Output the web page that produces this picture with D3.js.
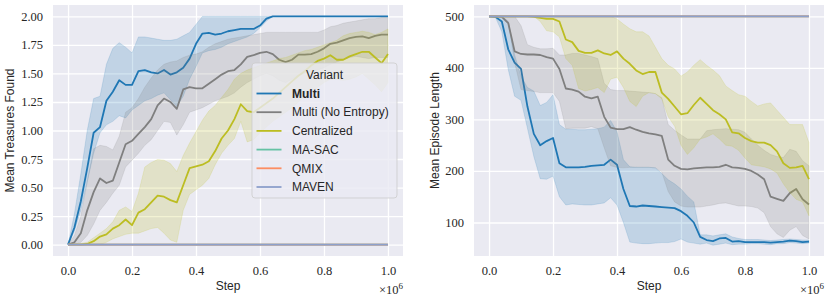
<!DOCTYPE html>
<html>
<head>
<meta charset="utf-8">
<script src="https://cdn.jsdelivr.net/npm/d3@7"></script>
<style>
  html, body { margin: 0; padding: 0; background: #fff; }
  svg { display: block; }
  .ax-lbl { font-family: "Liberation Sans", Arial, sans-serif; font-size: 12px; fill: #262626; }
  .leg { font-family: "Liberation Sans", Arial, sans-serif; font-size: 12px; fill: #262626; }
  .offset { font-family: "Liberation Serif", "DejaVu Serif", serif; fill: #262626; }
</style>
</head>
<body>
<div id="chart"></div>
<script>
'use strict';

// ─── Data ──────────────────────────────────────────────────────────────────
const steps = [0.00, 0.02, 0.04, 0.06, 0.08, 0.10, 0.12, 0.14, 0.16, 0.18,
               0.20, 0.22, 0.24, 0.26, 0.28, 0.30, 0.32, 0.34, 0.36, 0.38,
               0.40, 0.42, 0.44, 0.46, 0.48, 0.50, 0.52, 0.54, 0.56, 0.58,
               0.60, 0.62, 0.64, 0.66, 0.68, 0.70, 0.72, 0.74, 0.76, 0.78,
               0.80, 0.82, 0.84, 0.86, 0.88, 0.90, 0.92, 0.94, 0.96, 0.98, 1.00];
const flatSteps = [0.0, 1.0];

const variants = ['Multi', 'Multi (No Entropy)', 'Centralized', 'MA-SAC', 'QMIX', 'MAVEN'];
const colors   = ['#1f77b4', '#7f7f7f', '#bcbd22', '#66c2a5', '#fc8d62', '#8da0cb'];

// Left panel: mean treasures found
const multiMeanL = [0, 0.15, 0.38, 0.67, 0.98, 1.03, 1.26, 1.34, 1.44, 1.40, 1.40, 1.52, 1.53, 1.51, 1.50, 1.53, 1.49, 1.51, 1.55, 1.63,
                    1.76, 1.85, 1.855, 1.84, 1.85, 1.87, 1.88, 1.89, 1.89, 1.89, 1.92, 1.98, 2.0, 2.0, 2.0, 2.0, 2.0, 2.0, 2.0, 2.0,
                    2.0, 2.0, 2.0, 2.0, 2.0, 2.0, 2.0, 2.0, 2.0, 2.0, 2.0];
const multiLoL   = [0, 0.12, 0.30, 0.55, 0.80, 0.98, 1.05, 1.08, 1.13, 1.11, 1.18, 1.22, 1.26, 1.28, 1.31, 1.33, 1.27, 1.21, 1.30, 1.45,
                    1.56, 1.68, 1.70, 1.71, 1.73, 1.76, 1.78, 1.80, 1.82, 1.85, 1.90, 1.96, 2.0, 2.0, 2.0, 2.0, 2.0, 2.0, 2.0, 2.0,
                    2.0, 2.0, 2.0, 2.0, 2.0, 2.0, 2.0, 2.0, 2.0, 2.0, 2.0];
const multiHiL   = [0, 0.27, 0.62, 1.00, 1.28, 1.30, 1.58, 1.72, 1.77, 1.73, 1.68, 1.82, 1.82, 1.81, 1.80, 1.79, 1.79, 1.80, 1.83, 1.86,
                    1.93, 2.0, 2.0, 2.0, 2.0, 2.0, 2.0, 2.0, 2.0, 2.0, 2.0, 2.0, 2.0, 2.0, 2.0, 2.0, 2.0, 2.0, 2.0, 2.0,
                    2.0, 2.0, 2.0, 2.0, 2.0, 2.0, 2.0, 2.0, 2.0, 2.0, 2.0];
const noEntMeanL = [0, 0.02, 0.10, 0.30, 0.46, 0.58, 0.54, 0.56, 0.72, 0.88, 0.91, 0.97, 1.03, 1.10, 1.22, 1.28, 1.25, 1.19, 1.36, 1.38,
                    1.37, 1.37, 1.41, 1.45, 1.49, 1.52, 1.53, 1.58, 1.645, 1.66, 1.68, 1.69, 1.67, 1.62, 1.60, 1.62, 1.665, 1.665, 1.67, 1.69,
                    1.72, 1.76, 1.77, 1.79, 1.81, 1.82, 1.825, 1.81, 1.83, 1.84, 1.84];
const noEntLoL   = [0, 0, 0.02, 0.08, 0.18, 0.30, 0.37, 0.45, 0.52, 0.68, 0.74, 0.80, 0.87, 0.92, 1.00, 1.08, 1.07, 0.96, 1.05, 1.16,
                    1.18, 1.20, 1.23, 1.26, 1.28, 1.30, 1.33, 1.38, 1.42, 1.45, 1.48, 1.50, 1.48, 1.44, 1.42, 1.45, 1.48, 1.50, 1.52, 1.53,
                    1.55, 1.58, 1.60, 1.62, 1.64, 1.65, 1.64, 1.63, 1.64, 1.64, 1.64];
const noEntHiL   = [0, 0.08, 0.25, 0.55, 0.84, 0.87, 0.86, 0.83, 0.95, 1.16, 1.20, 1.28, 1.38, 1.46, 1.53, 1.58, 1.60, 1.61, 1.64, 1.66,
                    1.67, 1.69, 1.73, 1.76, 1.78, 1.80, 1.81, 1.82, 1.83, 1.84, 1.85, 1.86, 1.86, 1.86, 1.86, 1.86, 1.86, 1.86, 1.86, 1.86,
                    1.88, 1.91, 1.92, 1.94, 1.95, 1.96, 1.97, 1.98, 1.98, 1.99, 1.99];
const centMeanL  = [0, 0, 0, 0.005, 0.03, 0.07, 0.09, 0.14, 0.17, 0.22, 0.17, 0.28, 0.31, 0.37, 0.43, 0.42, 0.39, 0.37, 0.52, 0.67,
                    0.685, 0.70, 0.73, 0.82, 0.93, 1.00, 1.10, 1.23, 1.17, 1.16, 1.20, 1.24, 1.28, 1.33, 1.38, 1.43, 1.48, 1.52, 1.57, 1.61,
                    1.63, 1.66, 1.62, 1.62, 1.65, 1.67, 1.69, 1.69, 1.64, 1.59, 1.67];
const centLoL    = [0, 0, 0, 0, 0, 0, 0.02, 0.05, 0.07, 0.09, 0.10, 0.10, 0.12, 0.14, 0.15, 0.10, 0.04, 0.02, 0.30, 0.44,
                    0.48, 0.52, 0.58, 0.70, 0.80, 0.87, 0.93, 1.08, 0.90, 0.92, 0.98, 1.03, 1.08, 1.12, 1.16, 1.20, 1.25, 1.30, 1.34, 1.38,
                    1.42, 1.45, 1.45, 1.44, 1.45, 1.47, 1.50, 1.45, 1.40, 1.34, 1.42];
const centHiL    = [0, 0, 0.01, 0.02, 0.06, 0.10, 0.14, 0.20, 0.30, 0.33, 0.29, 0.45, 0.68, 0.72, 0.745, 0.74, 0.71, 0.64, 0.78, 0.89,
                    0.99, 1.09, 1.17, 1.22, 1.29, 1.36, 1.45, 1.50, 1.53, 1.55, 1.57, 1.59, 1.61, 1.63, 1.64, 1.66, 1.68, 1.70, 1.71, 1.73,
                    1.75, 1.77, 1.79, 1.83, 1.85, 1.86, 1.87, 1.86, 1.84, 1.86, 1.89];
const flatL = [0, 0];

// Right panel: mean episode length
const multiMeanR = [500, 499, 490, 436, 410, 398, 325, 272, 250, 258, 264, 215, 207, 207, 207, 208, 210, 211, 212, 222,
                    212, 165, 132, 131, 133, 132, 131, 130, 129, 128, 122, 113, 100, 72, 66, 64, 69, 70, 63, 64,
                    62, 62, 62, 62, 61, 62, 63, 65, 64, 62, 63];
const multiLoR   = [500, 498, 470, 397, 345, 337, 283, 228, 185, 184, 190, 150, 134, 136, 135, 134, 134, 136, 138, 148,
                    134, 100, 62, 60, 59, 59, 60, 61, 61, 63, 68, 62, 60, 58, 60, 56, 58, 60, 57, 58,
                    58, 59, 59, 58, 57, 59, 59, 61, 60, 59, 60];
const multiHiR   = [500, 500, 500, 490, 425, 384, 362, 355, 327, 333, 348, 290, 281, 281, 280, 280, 281, 282, 285, 298,
                    276, 222, 208, 207, 207, 207, 206, 195, 183, 175, 165, 151, 140, 76, 76, 74, 76, 78, 72, 69,
                    67, 67, 67, 66, 65, 66, 67, 68, 67, 66, 66];
const noEntMeanR = [500, 500, 499, 487, 432, 427, 426, 426, 425, 421, 418, 398, 360, 358, 354, 344, 341, 344, 305, 284,
                    281, 281, 285, 280, 276, 273, 271, 268, 222, 210, 204, 203, 205, 206, 207, 207, 208, 212, 207, 206,
                    204, 200, 193, 184, 150, 146, 142, 157, 165, 145, 135];
const noEntLoR   = [500, 500, 500, 490, 410, 358, 356, 354, 352, 352, 352, 335, 282, 283, 283, 283, 286, 282, 245, 210,
                    207, 206, 207, 207, 207, 207, 206, 198, 160, 140, 132, 130, 130, 130, 132, 134, 137, 138, 135, 132,
                    132, 131, 128, 119, 92, 78, 71, 85, 92, 75, 68];
const noEntHiR   = [500, 500, 500, 500, 500, 482, 445, 440, 437, 437, 438, 425, 425, 428, 428, 425, 422, 418, 370, 358,
                    356, 356, 355, 354, 353, 352, 350, 342, 290, 279, 270, 262, 262, 262, 278, 280, 281, 282, 281, 280,
                    275, 262, 250, 240, 232, 228, 226, 242, 238, 220, 210];
const centMeanR  = [500, 500, 500, 500, 500, 500, 500, 499, 497, 495, 495, 490, 455, 450, 433, 429, 429, 434, 428, 425,
                    432, 418, 408, 395, 388, 392, 392, 352, 340, 325, 310, 312, 328, 342, 330, 318, 310, 300, 275, 273,
                    264, 258, 255, 255, 250, 238, 215, 206, 207, 210, 184];
const centLoR    = [500, 500, 500, 500, 500, 500, 500, 500, 490, 472, 470, 460, 418, 405, 360, 355, 358, 362, 352, 378,
                    382, 362, 335, 325, 345, 352, 350, 340, 305, 287, 250, 232, 245, 262, 266, 272, 262, 250, 248, 240,
                    225, 212, 210, 208, 204, 196, 175, 158, 145, 140, 113];
const centHiR    = [500, 500, 500, 500, 500, 500, 500, 500, 500, 500, 500, 500, 500, 500, 500, 500, 500, 500, 500, 500,
                    495, 485, 476, 470, 470, 462, 440, 418, 405, 398, 384, 392, 405, 416, 405, 396, 385, 365, 356, 348,
                    345, 335, 326, 330, 332, 318, 304, 290, 290, 290, 255];
const flatR = [500, 500];

// Ticks
const xTicks       = [0.0, 0.2, 0.4, 0.6, 0.8, 1.0];
const xTickLabels  = ['0.0', '0.2', '0.4', '0.6', '0.8', '1.0'];
const yTicksL      = [0.00, 0.25, 0.50, 0.75, 1.00, 1.25, 1.50, 1.75, 2.00];
const yTickLabelsL = ['0.00', '0.25', '0.50', '0.75', '1.00', '1.25', '1.50', '1.75', '2.00'];
const yTicksR      = [100, 200, 300, 400, 500];
const yTickLabelsR = ['100', '200', '300', '400', '500'];

// ─── Build ─────────────────────────────────────────────────────────────────
const W = 830, H = 298;
const SERIF = '"Liberation Serif", "DejaVu Serif", serif';
const svg = d3.select('#chart').append('svg').attr('width', W).attr('height', H);

function series(xs, mean, lo, hi) {
    return xs.map(function (x, i) {
        return { x: x, y: mean[i], lo: lo ? lo[i] : null, hi: hi ? hi[i] : null };
    });
}

function drawPanel(p) {
    const x = d3.scaleLinear().domain([-0.047, 1.047]).range([p.x0, p.x1]);
    const y = d3.scaleLinear().domain(p.yDomain).range([p.y1, p.y0]);
    const g = svg.append('g');

    g.append('rect')
        .attr('x', p.x0).attr('y', p.y0)
        .attr('width', p.x1 - p.x0).attr('height', p.y1 - p.y0)
        .attr('fill', '#eaeaf2');

    // axes double as white grid
    const xAxis = g.append('g')
        .attr('transform', 'translate(0,' + p.y1 + ')')
        .call(d3.axisBottom(x).tickValues(xTicks)
            .tickSize(-(p.y1 - p.y0)).tickPadding(10)
            .tickFormat(function (d, i) { return xTickLabels[i]; }));
    const yAxis = g.append('g')
        .attr('transform', 'translate(' + p.x0 + ',0)')
        .call(d3.axisLeft(y).tickValues(p.yTicks)
            .tickSize(-(p.x1 - p.x0)).tickPadding(10)
            .tickFormat(function (d, i) { return p.yLabels[i]; }));
    [xAxis, yAxis].forEach(function (a) {
        a.attr('font-family', SERIF).attr('font-size', 12.5);
        a.select('.domain').remove();
        a.selectAll('.tick line').attr('stroke', '#ffffff').attr('stroke-width', 1.3);
        a.selectAll('.tick text').attr('fill', '#262626')
            .style('font-family', SERIF).style('font-size', '12.5px');
    });

    const area = d3.area()
        .x(function (d) { return x(d.x); })
        .y0(function (d) { return y(d.lo); })
        .y1(function (d) { return y(d.hi); });
    const line = d3.line()
        .x(function (d) { return x(d.x); })
        .y(function (d) { return y(d.y); });

    p.data.forEach(function (s, i) {
        if (s[0].lo !== null) {
            g.append('path')
                .datum(s)
                .attr('d', area)
                .attr('fill', colors[i]).attr('fill-opacity', 0.2)
                .attr('stroke', colors[i]).attr('stroke-opacity', 0.2)
                .attr('stroke-width', 0.8);
        }
        g.append('path')
            .datum(s)
            .attr('d', line)
            .attr('fill', 'none')
            .attr('stroke', colors[i])
            .attr('stroke-width', 1.8)
            .attr('stroke-linejoin', 'round');
    });

    // labels
    g.append('text').attr('class', 'ax-lbl')
        .attr('x', (p.x0 + p.x1) / 2).attr('y', 290)
        .attr('text-anchor', 'middle').text('Step');
    g.append('text').attr('class', 'ax-lbl')
        .attr('transform', 'translate(' + p.yLabelX + ',' + ((p.y0 + p.y1) / 2) + ') rotate(-90)')
        .attr('text-anchor', 'middle').attr('dy', '0.35em').text(p.yLabel);

    const off = g.append('text').attr('class', 'offset')
        .attr('x', p.x1).attr('y', 294).attr('text-anchor', 'end');
    off.append('tspan').attr('font-size', '12.5px').text('\u00d710');
    off.append('tspan').attr('font-size', '9px').attr('dy', -5).text('6');

    return { x: x, y: y, g: g };
}

const left = drawPanel({
    x0: 53, x1: 403, y0: 5, y1: 256,
    yDomain: [-0.1, 2.1], yTicks: yTicksL, yLabels: yTickLabelsL,
    yLabel: 'Mean Treasures Found', yLabelX: 10,
    data: [
        series(steps, multiMeanL, multiLoL, multiHiL),
        series(steps, noEntMeanL, noEntLoL, noEntHiL),
        series(steps, centMeanL, centLoL, centHiL),
        series(flatSteps, flatL),
        series(flatSteps, flatL),
        series(flatSteps, flatL)
    ]
});

drawPanel({
    x0: 474, x1: 824, y0: 5, y1: 256,
    yDomain: [35, 522], yTicks: yTicksR, yLabels: yTickLabelsR,
    yLabel: 'Mean Episode Length', yLabelX: 435,
    data: [
        series(steps, multiMeanR, multiLoR, multiHiR),
        series(steps, noEntMeanR, noEntLoR, noEntHiR),
        series(steps, centMeanR, centLoR, centHiR),
        series(flatSteps, flatR),
        series(flatSteps, flatR),
        series(flatSteps, flatR)
    ]
});

// ─── Legend (left panel) ───────────────────────────────────────────────────
const leg = left.g.append('g').attr('transform', 'translate(252,63)');
leg.append('rect')
    .attr('width', 145).attr('height', 135).attr('rx', 3)
    .attr('fill', '#eaeaf2').attr('fill-opacity', 0.8)
    .attr('stroke', '#cccccc').attr('stroke-opacity', 0.8);
leg.append('text').attr('class', 'leg')
    .attr('x', 72.5).attr('y', 12).attr('dy', '0.35em')
    .attr('text-anchor', 'middle').text('Variant');
variants.forEach(function (v, i) {
    const ry = 30.5 + i * 18.7;
    leg.append('line')
        .attr('x1', 4.5).attr('x2', 29.5).attr('y1', ry).attr('y2', ry)
        .attr('stroke', colors[i]).attr('stroke-width', 1.8);
    leg.append('text').attr('class', 'leg')
        .attr('x', 40).attr('y', ry).attr('dy', '0.35em')
        .attr('font-weight', i === 0 ? 'bold' : null)
        .text(v);
});
</script>
</body>
</html>
